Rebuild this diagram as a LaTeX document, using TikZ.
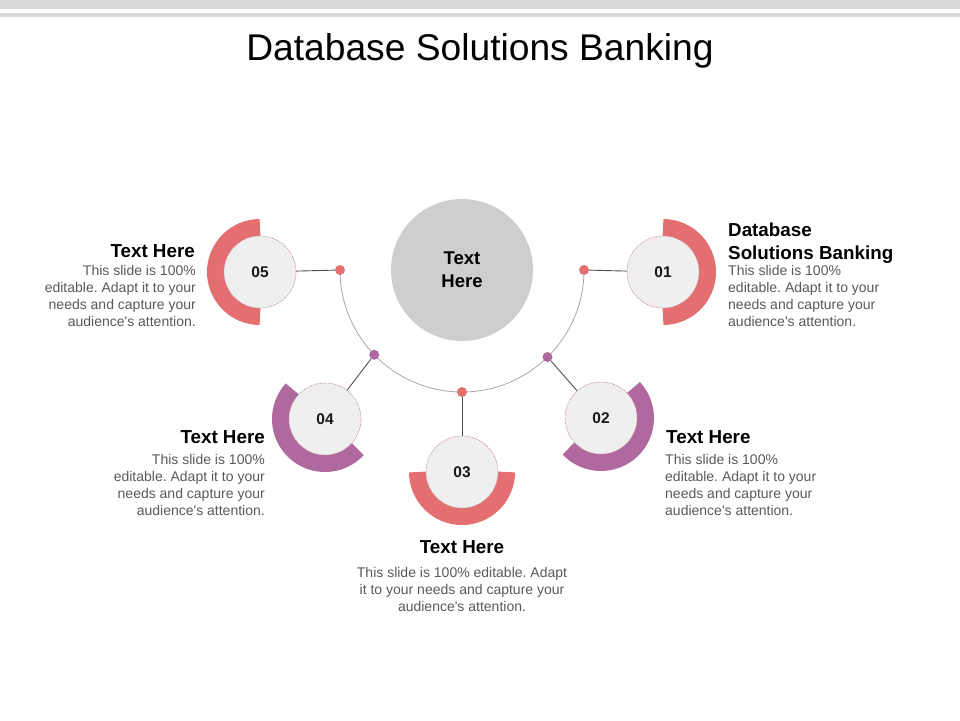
\documentclass[tikz,border=0pt]{standalone}
\usepackage{fontspec}
\setmainfont{Liberation Sans}
\usetikzlibrary{calc}
\frenchspacing
\definecolor{coral}{HTML}{E46F71}
\definecolor{plum}{HTML}{B0699F}
\definecolor{innerfill}{HTML}{EFEFEF}
\definecolor{innerline}{HTML}{C7909A}
\definecolor{centrefill}{HTML}{CFCDCE}
\definecolor{bodygray}{HTML}{595959}
\definecolor{bargray}{HTML}{D9D9D9}
\definecolor{arcgray}{HTML}{A8A8A8}
\definecolor{linkgray}{HTML}{505050}
\newcommand{\apos}{\textquotesingle}
\tikzset{
  x=1pt, y=-1pt,
  inner/.style={circle, minimum size=72pt, inner sep=0, fill=innerfill, draw=innerline, line width=0.6pt, dash pattern=on 1.5pt off 1pt, font=\fontsize{15.5}{18}\selectfont\bfseries, text=black!90},
  dotnode/.style={circle, minimum size=10pt, inner sep=0},
  ring/.style={line width=17pt},
  link/.style={draw=linkgray, line width=0.9pt},
  head/.style={inner sep=0, font=\fontsize{18.8}{23}\selectfont\bfseries, text=black},
  body/.style={inner sep=0, font=\fontsize{14}{17}\selectfont, text=bodygray},
}
\begin{document}
\begin{tikzpicture}
\useasboundingbox (0,0) rectangle (960,720);
% top bars
\fill[bargray] (0,0) rectangle (960,8.5);
\fill[bargray] (0,13) rectangle (960,16.5);
% title
\node[inner sep=0, font=\fontsize{37.2}{40}\selectfont] (title) at (480,51) {Database Solutions Banking};
% central circle
\node[circle, fill=centrefill, minimum size=142pt, inner sep=0, align=center, font=\fontsize{18.5}{23}\selectfont\bfseries] (ctr) at (462,270) {Text\\Here};
% arc
\draw[arcgray, line width=0.8pt] (584,270) arc[start angle=0, end angle=180, radius=122];
% dots on arc
\node[dotnode, fill=coral] (d1) at ($(462,270)+(0:122)$) {};
\node[dotnode, fill=plum] (d2) at ($(462,270)+(45.5:122)$) {};
\node[dotnode, fill=coral] (d3) at ($(462,270)+(90:122)$) {};
\node[dotnode, fill=plum] (d4) at ($(462,270)+(136:122)$) {};
\node[dotnode, fill=coral] (d5) at ($(462,270)+(180:122)$) {};
% rings
\draw[ring, coral] (663,272) ++(-90:44.5) arc[start angle=-90, end angle=90, radius=44.5];
\draw[ring, plum] (601,418) ++(-43.2:44.5) arc[start angle=-43.2, end angle=136.8, radius=44.5];
\draw[ring, coral] (462,472) ++(0:44.5) arc[start angle=0, end angle=180, radius=44.5];
\draw[ring, plum] (325,419) ++(42.6:44.5) arc[start angle=42.6, end angle=222.6, radius=44.5];
\draw[ring, coral] (260,272) ++(90:44.5) arc[start angle=90, end angle=270, radius=44.5];
% inner circles
\node[inner] (c1) at (663,272) {01};
\node[inner] (c2) at (601,418) {02};
\node[inner] (c3) at (462,472) {03};
\node[inner] (c4) at (325,419) {04};
\node[inner] (c5) at (260,272) {05};
% links
\draw[link] (d1) -- (c1);
\draw[link] (d2) -- (c2);
\draw[link] (d3) -- (c3);
\draw[link] (d4) -- (c4);
\draw[link] (d5) -- (c5);
% texts 01
\node[head, anchor=north west, align=left] (h1) at (728,223) {Database\\Solutions Banking};
\node[body, anchor=north west, align=left] (b1) at (728,265) {This slide is 100\%\\editable. Adapt it to your\\needs and capture your\\audience\apos s attention.};
% texts 05
\node[head, anchor=north east, align=right] (h5) at (195,244.5) {Text Here};
\node[body, anchor=north east, align=right] (b5) at (196,265) {This slide is 100\%\\editable. Adapt it to your\\needs and capture your\\audience\apos s attention.};
% texts 04
\node[head, anchor=north east, align=right] (h4) at (265,430.5) {Text Here};
\node[body, anchor=north east, align=right] (b4) at (265,454) {This slide is 100\%\\editable. Adapt it to your\\needs and capture your\\audience\apos s attention.};
% texts 02
\node[head, anchor=north west, align=left] (h2) at (666,430.5) {Text Here};
\node[body, anchor=north west, align=left] (b2) at (665,454) {This slide is 100\%\\editable. Adapt it to your\\needs and capture your\\audience\apos s attention.};
% texts 03
\node[head, anchor=north, align=center] (h3) at (462,540.5) {Text Here};
\node[body, anchor=north, align=center] (b3) at (462,567) {This slide is 100\% editable. Adapt\\it to your needs and capture your\\audience\apos s attention.};
\end{tikzpicture}
\end{document}
